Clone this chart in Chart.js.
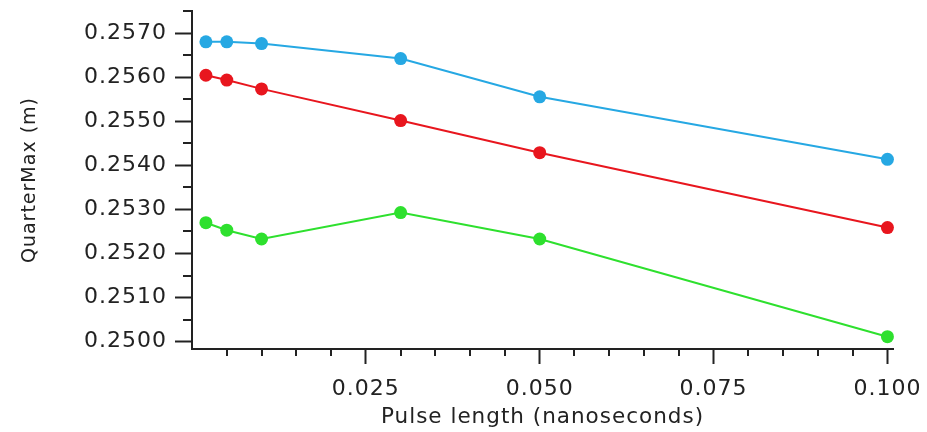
<!DOCTYPE html>
<html>
<head>
<meta charset="utf-8">
<script src="https://cdn.jsdelivr.net/npm/chart.js@4/dist/chart.umd.min.js"></script>
<style>
html,body{margin:0;padding:0;background:#fff;}
#wrap{width:927px;height:432px;position:relative;}
</style>
</head>
<body>
<div id="wrap"><canvas id="c" width="927" height="432"></canvas></div>
<script>
// ---- data ----
const pulseLengths = [0.002, 0.005, 0.010, 0.030, 0.050, 0.100];
const blueSeries  = [0.25681, 0.25681, 0.25677, 0.25643, 0.25556, 0.25414];
const redSeries   = [0.25605, 0.25594, 0.25574, 0.25502, 0.25429, 0.25259];
const greenSeries = [0.25270, 0.25253, 0.25233, 0.25293, 0.25233, 0.25011];

const yTickValues = [0.2500, 0.2510, 0.2520, 0.2530, 0.2540, 0.2550, 0.2560, 0.2570];
const yTickLabels = ['0.2500', '0.2510', '0.2520', '0.2530', '0.2540', '0.2550', '0.2560', '0.2570'];
const yMinorValues = [0.2505, 0.2515, 0.2525, 0.2535, 0.2545, 0.2555, 0.2565, 0.2575];
const xTickValues = [0.025, 0.050, 0.075, 0.100];
const xTickLabels = ['0.025', '0.050', '0.075', '0.100'];
const xMinorValues = [0.005, 0.010, 0.015, 0.020, 0.030, 0.035, 0.040, 0.045, 0.055, 0.060, 0.065, 0.070, 0.080, 0.085, 0.090, 0.095];

const xTitle = 'Pulse length (nanoseconds)';
const yTitle = 'QuarterMax (m)';

// ---- styles ----
const INK = '#222222';
const FONT = 'DejaVu Sans';

function series(values, color) {
  return {
    data: pulseLengths.map((x, i) => ({ x: x, y: values[i] })),
    borderColor: color,
    backgroundColor: color,
    borderWidth: 2,
    pointRadius: 6.5,
    pointHoverRadius: 6.5,
    pointBorderWidth: 0,
    pointBackgroundColor: color,
    showLine: true,
    tension: 0,
    clip: false
  };
}

const minorTicks = {
  id: 'minorTicks',
  beforeUpdate(chart) { chart.ctx.letterSpacing = '1px'; },
  beforeDraw(chart) {
    const ctx = chart.ctx;
    ctx.letterSpacing = '1px';
    ctx.save();
    ctx.fillStyle = '#ffffff';
    ctx.fillRect(0, 0, chart.width, chart.height);
    ctx.restore();
  },
  afterDraw(chart) {
    const ctx = chart.ctx, xs = chart.scales.x, ys = chart.scales.y, a = chart.chartArea;
    ctx.save();
    ctx.strokeStyle = INK;
    ctx.lineWidth = 2;
    ctx.beginPath();
    yMinorValues.forEach(v => {
      const p = Math.round(ys.getPixelForValue(v));
      ctx.moveTo(a.left - 9, p); ctx.lineTo(a.left, p);
    });
    xMinorValues.forEach(v => {
      const p = Math.round(xs.getPixelForValue(v));
      ctx.moveTo(p, a.bottom); ctx.lineTo(p, a.bottom + 7);
    });
    ctx.stroke();
    ctx.restore();
  }
};

new Chart(document.getElementById('c'), {
  type: 'scatter',
  data: {
    datasets: [
      series(blueSeries, '#26a8e3'),
      series(redSeries, '#e8161e'),
      series(greenSeries, '#2ee02e')
    ]
  },
  options: {
    responsive: false,
    animation: false,
    devicePixelRatio: 1,
    layout: { padding: { top: 11, right: 34, bottom: 0, left: 0 } },
    plugins: { legend: { display: false }, tooltip: { enabled: false } },
    scales: {
      x: {
        type: 'linear',
        position: 'bottom',
        min: 0,
        max: 0.1008,
        afterBuildTicks: s => { s.ticks = xTickValues.map(v => ({ value: v })); },
        afterFit: s => { s.height = 83; s.paddingLeft = 0; s.paddingRight = 0; },
        ticks: {
          callback: (v, i) => xTickLabels[i],
          font: { family: FONT, size: 22 },
          color: INK,
          padding: 12,
          maxRotation: 0,
          autoSkip: false
        },
        grid: { display: true, drawOnChartArea: false, drawTicks: true, tickLength: 15, tickWidth: 2, tickColor: INK },
        border: { display: true, color: INK, width: 2 },
        title: {
          display: true,
          text: xTitle,
          font: { family: FONT, size: 21.5 },
          color: INK,
          padding: { top: 0, bottom: 2 }
        }
      },
      y: {
        type: 'linear',
        position: 'left',
        min: 0.24983,
        max: 0.25751,
        afterBuildTicks: s => { s.ticks = yTickValues.map(v => ({ value: v })); },
        afterFit: s => { s.width = 192; s.paddingTop = 0; s.paddingBottom = 0; },
        ticks: {
          callback: (v, i) => yTickLabels[i],
          font: { family: FONT, size: 22 },
          color: INK,
          padding: 8,
          autoSkip: false
        },
        grid: { display: true, drawOnChartArea: false, drawTicks: true, tickLength: 17, tickWidth: 2, tickColor: INK },
        border: { display: true, color: INK, width: 2 },
        title: {
          display: true,
          text: yTitle,
          font: { family: FONT, size: 19 },
          color: INK,
          padding: { top: 19, bottom: 0 }
        }
      }
    }
  },
  plugins: [minorTicks]
});
</script>
</body>
</html>
